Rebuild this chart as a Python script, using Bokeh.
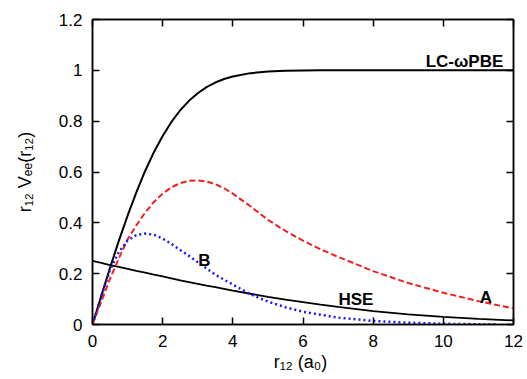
import math
from bokeh.plotting import figure
from bokeh.models import Range1d, LinearAxis, FixedTicker, CustomJSTickFormatter, Label
from bokeh.embed import file_html
from bokeh.resources import INLINE

# ---- data ----
x_main = [0, 0.25, 0.5, 0.75, 1, 1.25, 1.5, 1.75, 2, 2.25, 2.5, 2.75, 3, 3.25, 3.5, 3.75,
          4, 4.5, 5, 5.5, 6, 6.5, 7, 8, 9, 10, 11, 12]
lc_wpbe = [0, 0.112, 0.223, 0.329, 0.428, 0.520, 0.604, 0.678, 0.742, 0.797, 0.843, 0.880,
           0.910, 0.934, 0.952, 0.966, 0.976, 0.989, 0.995, 0.998, 0.999, 1.0, 1.0,
           1.0, 1.0, 1.0, 1.0, 1.0]
hse = [0.250, 0.242, 0.234, 0.227, 0.219, 0.211, 0.204, 0.196, 0.189, 0.1815, 0.174, 0.167,
       0.160, 0.153, 0.147, 0.140, 0.133, 0.121, 0.109, 0.098, 0.088, 0.078, 0.069,
       0.053, 0.040, 0.030, 0.022, 0.016]
curve_a = [0, 0.09, 0.18, 0.26, 0.335, 0.39, 0.44, 0.482, 0.515, 0.540, 0.556, 0.565,
           0.567, 0.563, 0.552, 0.536, 0.515, 0.465, 0.412, 0.368, 0.330, 0.296, 0.266,
           0.210, 0.163, 0.125, 0.092, 0.063]
x_b = [0, 0.25, 0.5, 0.75, 1, 1.25, 1.5, 1.75, 2, 2.25, 2.5, 2.75, 3, 3.5, 4, 4.5, 5, 5.5,
       6, 7, 8, 9, 10, 11, 11.5]
curve_b = [0, 0.11, 0.215, 0.285, 0.33, 0.352, 0.358, 0.353, 0.338, 0.317, 0.293, 0.270,
           0.245, 0.196, 0.157, 0.119, 0.09, 0.068, 0.05, 0.027, 0.014, 0.007, 0.003,
           0.001, 0.0005]
x_ticks = [0, 2, 4, 6, 8, 10, 12]
y_ticks = [0, 0.2, 0.4, 0.6, 0.8, 1.0, 1.2]
x_title = "r\u2081\u2082  (a\u2080)"
y_title = "r\u2081\u2082 V\u2091\u2091(r\u2081\u2082)"

FONT = "Liberation Sans"

p = figure(width=525, height=378, output_backend="svg", toolbar_location=None,
           x_range=Range1d(0, 12), y_range=Range1d(0, 1.2),
           min_border_left=92, min_border_right=12, min_border_top=19, min_border_bottom=54,
           background_fill_color="white", border_fill_color="white")
p.xgrid.grid_line_color = None
p.ygrid.grid_line_color = None
p.outline_line_color = "black"
p.outline_line_width = 1.5

fmt = CustomJSTickFormatter(code="return Number(tick.toFixed(2)).toString();")
blank = CustomJSTickFormatter(code="return '';")


def style(ax, ticks, formatter, standoff):
    ax.ticker = FixedTicker(ticks=ticks)
    ax.formatter = formatter
    ax.axis_line_color = "black"
    ax.axis_line_width = 1.5
    ax.major_tick_in = 7
    ax.major_tick_out = 0
    ax.major_tick_line_color = "black"
    ax.major_tick_line_width = 1.5
    ax.minor_tick_line_color = None
    ax.major_label_standoff = standoff
    ax.major_label_text_font = FONT
    ax.major_label_text_font_size = "17px"
    ax.major_label_text_color = "black"
    ax.axis_label_text_font = FONT
    ax.axis_label_text_font_size = "18px"
    ax.axis_label_text_font_style = "normal"
    ax.axis_label_text_color = "black"


style(p.xaxis[0], x_ticks, fmt, 10)
style(p.yaxis[0], y_ticks, fmt, 10)
p.xaxis[0].axis_label = x_title
p.xaxis[0].axis_label_standoff = 2
p.yaxis[0].axis_label = y_title
p.yaxis[0].axis_label_standoff = 21

top = LinearAxis()
right = LinearAxis()
style(top, x_ticks, blank, 0)
style(right, y_ticks, blank, 0)
top.major_label_text_font_size = "0px"
right.major_label_text_font_size = "0px"
p.add_layout(top, "above")
p.add_layout(right, "right")

p.line(x_main, lc_wpbe, line_color="black", line_width=2)
p.line(x_main, hse, line_color="black", line_width=1.8)
p.line(x_main, curve_a, line_color="#ee2020", line_width=2, line_dash="6 3")
p.line(x_b, curve_b, line_color="#1a1aee", line_width=2.5, line_dash="2 3")


def px2x(px):
    return (px - 93) / 35.1


def px2y(py):
    return (325 - py) / 254.0


def lab(text, x, y, align="left"):
    p.add_layout(Label(x=x, y=y, text=text, text_font=FONT, text_font_size="17px",
                       text_font_style="bold", text_color="black",
                       text_align=align, text_baseline="alphabetic"))


# curve labels
lab("LC-\u03c9PBE", px2x(504), px2y(62), align="right")
lab("B", px2x(205), px2y(261), align="center")
lab("HSE", px2x(356.5), px2y(300), align="center")
lab("A", px2x(486.5), px2y(298.5), align="center")

open("out.html", "w").write(file_html(p, INLINE))
